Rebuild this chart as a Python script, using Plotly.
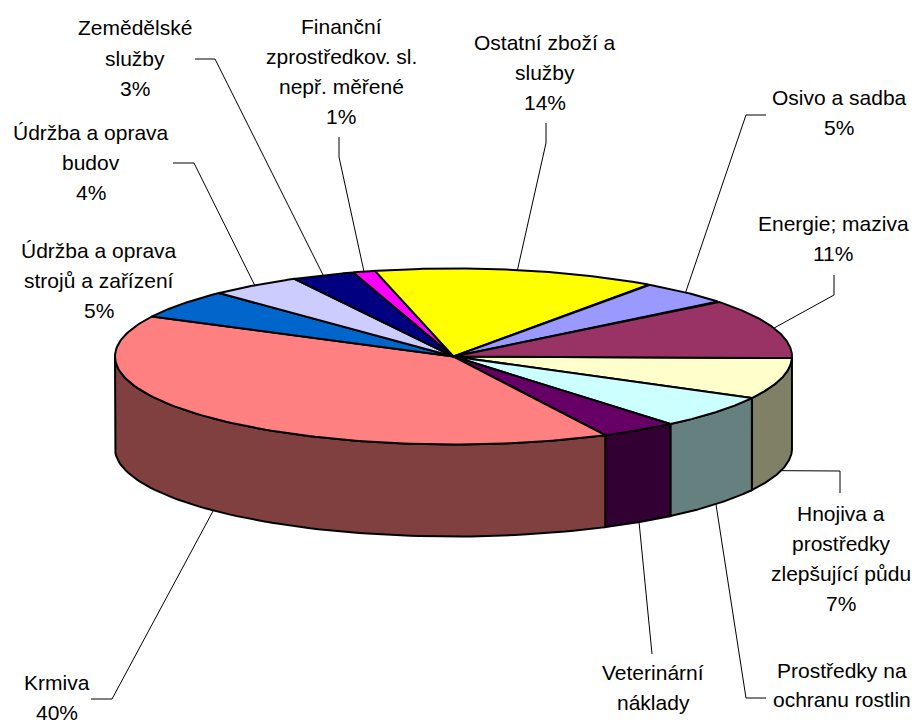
import numpy as np
import plotly.graph_objects as go

# ---- data (clockwise from the 3 o'clock edge) ----
categories = ["Hnojiva", "Prostředky", "Veterinární", "Krmiva", "Stroje", "Budovy",
              "Zemědělské", "Finanční", "Ostatní", "Osivo", "Energie"]
values = [7.55, 6.1, 3.67, 39.9, 5.3, 4.4, 3.0, 1.06, 13.5, 4.5, 11.0]
top_colors = ["#FFFFCC", "#CCFFFF", "#660066", "#FF8080", "#0066CC", "#CCCCFF",
              "#000080", "#FF00FF", "#FFFF00", "#9999FF", "#993366"]
side_colors = ["#808066", "#668080", "#330033", "#804040", "#003366", "#666680",
               "#000040", "#800080", "#808000", "#4D4D80", "#4D1A33"]
label_lines = [
    ["Hnojiva a", "prostředky", "zlepšující půdu", "7%"],
    ["Prostředky na", "ochranu rostlin", "6%"],
    ["Veterinární", "náklady"],
    ["Krmiva", "40%"],
    ["Údržba a oprava", "strojů a zařízení", "5%"],
    ["Údržba a oprava", "budov", "4%"],
    ["Zemědělské", "služby", "3%"],
    ["Finanční", "zprostředkov. sl.", "nepř. měřené", "1%"],
    ["Ostatní zboží a", "služby", "14%"],
    ["Osivo a sadba", "5%"],
    ["Energie; maziva", "11%"],
]

# ---- layout constants (pixels) ----
W, H = 916, 722
CX, CY, RX, RY, DEPTH = 453.5, 356.5, 338.5, 88.0, 92.0
START_DEG = -1.0
label_centres = [
    (841, [513, 543, 573, 603]),
    (842, [670, 699]),
    (653, [672, 702]),
    (57, [682, 712]),
    (99, [250, 280, 310]),
    (91, [132, 162, 192]),
    (135, [27, 58, 88]),
    (341, [26, 56, 86, 116]),
    (545, [42, 72, 102]),
    (839, [97, 127]),
    (833, [223, 253]),
]
clipped_tail_top = {1: 715}   # the last line of this label runs off the page
leader_paths = [
    [(840, 493), (840, 471)],
    [(766, 698), (746, 698)],
    [(652, 654)],
    [(91, 699), (112, 699)],
    None,
    [(173, 163), (194, 163)],
    [(195, 59), (215, 59)],
    [(339, 137), (339, 157)],
    [(546, 123), (546, 143)],
    [(766, 115), (746, 115)],
    [(834, 275), (834, 295)],
]
FONT = dict(family="Liberation Sans, Arial, sans-serif", size=21, color="black")


def rim(t_deg, drop=0.0):
    t = np.radians(t_deg)
    return CX + RX * np.cos(t), CY - RY * np.sin(t) + drop


fractions = np.array(values) / np.sum(values)
ends = START_DEG - 360 * np.cumsum(fractions)
starts = np.concatenate(([START_DEG], ends[:-1]))

fig = go.Figure()

# side wall: only the front half of the rim (angles -180..0) is visible
for a, b, col in zip(starts, ends, side_colors):
    lo, hi = max(b, -180), min(a, 0)
    if lo >= hi:
        continue
    t = np.linspace(hi, lo, 80)
    xt, yt = rim(t)
    xb, yb = rim(t[::-1], DEPTH)
    fig.add_trace(go.Scatter(
        x=np.r_[xt, xb, xt[0]], y=np.r_[yt, yb, yt[0]], mode="lines", fill="toself",
        fillcolor=col, line=dict(color="black", width=2), hoverinfo="skip", showlegend=False))

# top face
for name, a, b, col in zip(categories, starts, ends, top_colors):
    t = np.linspace(a, b, 120)
    xt, yt = rim(t)
    fig.add_trace(go.Scatter(
        x=np.r_[CX, xt, CX], y=np.r_[CY, yt, CY], mode="lines", fill="toself",
        fillcolor=col, line=dict(color="black", width=2), name=name, showlegend=False,
        hoverinfo="name"))

# leader lines, ending on the rim at the middle of each slice
for i, path in enumerate(leader_paths):
    if path is None:
        continue
    mid = (starts[i] + ends[i]) / 2
    sin_m = np.sin(np.radians(mid))
    tip = rim(mid, DEPTH if sin_m < 0 else 0.0)
    xs = [p[0] for p in path] + [float(tip[0])]
    ys = [p[1] for p in path] + [float(tip[1])]
    fig.add_trace(go.Scatter(x=xs, y=ys, mode="lines", line=dict(color="black", width=1),
                             hoverinfo="skip", showlegend=False))

# labels, one annotation per line to keep the original line pitch
annotations = []
for i, lines in enumerate(label_lines):
    cx, ys = label_centres[i]
    for j, text in enumerate(lines):
        if j < len(ys):
            annotations.append(dict(x=cx, y=ys[j], text=text, xanchor="center", yanchor="middle",
                                    showarrow=False, font=FONT))
        else:
            annotations.append(dict(x=cx, y=clipped_tail_top[i], text=text, xanchor="center",
                                    yanchor="top", showarrow=False, font=FONT))

fig.update_layout(
    width=W, height=H, margin=dict(l=0, r=0, t=0, b=0),
    paper_bgcolor="white", plot_bgcolor="white", annotations=annotations,
    xaxis=dict(range=[0, W], visible=False, fixedrange=True),
    yaxis=dict(range=[H, 0], visible=False, fixedrange=True),
    showlegend=False,
)
fig.write_html("out.html", config=dict(displayModeBar=False),
               post_script="document.body.style.margin='0';document.documentElement.style.overflow='hidden';")
